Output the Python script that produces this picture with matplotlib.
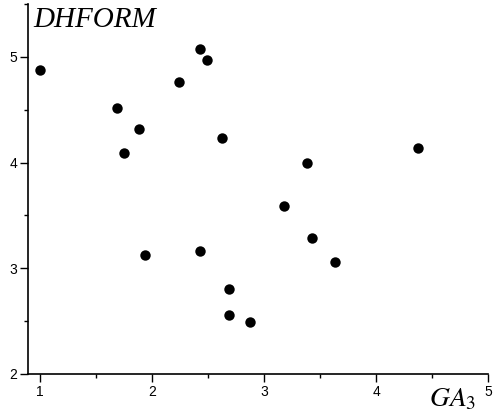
import matplotlib
matplotlib.use("Agg")
import matplotlib.pyplot as plt
from matplotlib.ticker import MultipleLocator

# GA3 index vs. DHFORM values
ga3 = [1.00, 1.69, 1.89, 1.75, 2.24, 2.43, 2.49, 2.63, 1.94,
       2.43, 2.69, 2.69, 2.88, 3.18, 3.43, 3.63, 3.38, 4.37]
dhform = [4.88, 4.52, 4.32, 4.09, 4.76, 5.08, 4.97, 4.23, 3.13,
          3.16, 2.80, 2.56, 2.49, 3.59, 3.29, 3.06, 4.00, 4.14]

plt.rcParams["font.family"] = ["Liberation Sans", "DejaVu Sans"]
plt.rcParams["mathtext.fontset"] = "stix"

fig = plt.figure(figsize=(5.0, 4.16), dpi=100)
ax = fig.add_axes([0.0566, 0.101, 0.920, 0.889])

ax.plot(ga3, dhform, "o", color="black", markersize=7.5, markeredgewidth=0)

ax.set_xlim(0.9, 5.0)
ax.set_ylim(2.0, 5.5)
ax.xaxis.set_major_locator(MultipleLocator(1))
ax.xaxis.set_minor_locator(MultipleLocator(0.5))
ax.yaxis.set_major_locator(MultipleLocator(1))
ax.yaxis.set_minor_locator(MultipleLocator(0.5))

for s in ("top", "right"):
    ax.spines[s].set_visible(False)
for s in ("left", "bottom"):
    ax.spines[s].set_linewidth(1.2)

ax.tick_params(which="major", direction="out", length=5.5, width=1.0,
               labelsize=10, pad=2.5)
ax.tick_params(which="minor", direction="out", length=3, width=1.0)

ax.text(0.012, 0.993, "DHFORM", transform=ax.transAxes, ha="left", va="top",
        fontsize=21, fontstyle="italic", family="Liberation Serif")
fig.text(0.858, 0.008, r"$GA_3$", ha="left", va="bottom", fontsize=20)

fig.savefig("out.png", dpi=100)
